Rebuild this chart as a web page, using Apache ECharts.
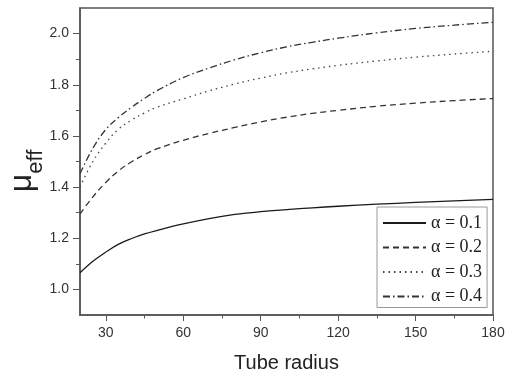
<!DOCTYPE html>
<html><head><meta charset="utf-8">
<script src="https://cdn.jsdelivr.net/npm/echarts@6/dist/echarts.min.js"></script>
<style>html,body{margin:0;padding:0;background:#fff}#c{width:506px;height:377px}</style>
</head><body><div id="c"></div><script>
const radius  = [20, 25, 30, 35, 40, 45, 50, 60, 70, 80, 90, 100, 110, 120, 135, 150, 165, 180];
const alpha01 = [1.065, 1.110, 1.146, 1.177, 1.199, 1.217, 1.231, 1.256, 1.277, 1.293, 1.304, 1.312, 1.319, 1.325, 1.333, 1.340, 1.346, 1.352];
const alpha02 = [1.295, 1.362, 1.418, 1.464, 1.499, 1.527, 1.550, 1.583, 1.610, 1.633, 1.655, 1.673, 1.688, 1.700, 1.716, 1.728, 1.738, 1.746];
const alpha03 = [1.400, 1.500, 1.572, 1.627, 1.662, 1.690, 1.713, 1.745, 1.776, 1.803, 1.826, 1.846, 1.862, 1.876, 1.893, 1.908, 1.920, 1.931];
const alpha04 = [1.452, 1.552, 1.625, 1.673, 1.712, 1.747, 1.778, 1.828, 1.865, 1.898, 1.925, 1.948, 1.966, 1.982, 2.003, 2.020, 2.033, 2.044];
const seriesNames = ['α = 0.1', 'α = 0.2', 'α = 0.3', 'α = 0.4'];
const xTicks = [30, 60, 90, 120, 150, 180];
const xMinor = [45, 75, 105, 135, 165];
const yTicks = [1.0, 1.2, 1.4, 1.6, 1.8, 2.0];
const yMinor = [1.1, 1.3, 1.5, 1.7, 1.9];

const pair = arr => radius.map((r, i) => [r, arr[i]]);
const axisCol = '#555';
const chart = echarts.init(document.getElementById('c'));
const dashes = ['solid', [6, 4], [1.5, 4], [7, 3, 1.5, 3]];
const cols = ['#1a1a1a', '#333', '#444', '#333'];
const data = [alpha01, alpha02, alpha03, alpha04];

chart.setOption({
  animation: false,
  backgroundColor: '#fff',
  grid: { left: 80, right: 13, top: 8, bottom: 62, outerBoundsMode: 'none', containLabel: false, show: true, borderColor: axisCol, borderWidth: 1.5, backgroundColor: 'transparent' },
  legend: {
    orient: 'vertical', left: 377, top: 207,
    itemWidth: 43, itemHeight: 14, itemGap: 6.5,
    padding: [7, 5, 2, 5],
    borderColor: '#999', borderWidth: 1, backgroundColor: '#fff',
    itemStyle: { opacity: 0 },
    textStyle: { fontFamily: 'Liberation Serif', fontSize: 18, color: '#222' },
    data: seriesNames
  },
  xAxis: [{
    type: 'value', min: 20, max: 180,
    name: 'Tube radius', nameLocation: 'middle', nameGap: 38, nameMoveOverlap: false,
    nameTextStyle: { fontFamily: 'Liberation Sans', fontSize: 20, color: '#222' },
    axisLine: { show: true, lineStyle: { color: axisCol, width: 1.5 } },
    axisTick: { show: true, length: 6, customValues: xTicks, lineStyle: { color: axisCol } },
    axisLabel: { customValues: xTicks, fontFamily: 'Liberation Sans', fontSize: 14, color: '#333', margin: 11 },
    splitLine: { show: false }
  }, {
    type: 'value', min: 20, max: 180, position: 'bottom',
    axisLine: { show: false },
    axisTick: { show: true, length: 3.5, customValues: xMinor, lineStyle: { color: axisCol } },
    axisLabel: { show: false, customValues: xMinor },
    splitLine: { show: false }
  }],
  yAxis: [{
    type: 'value', min: 0.9, max: 2.1,
    name: '{mu|μ}{sub|eff}', nameLocation: 'middle', nameGap: 33, nameRotate: 90, nameMoveOverlap: false,
    nameTextStyle: {
      color: '#222', fontFamily: 'Liberation Sans', padding: [0, 19, 0, 0],
      rich: {
        mu: { fontSize: 32, fontFamily: 'Liberation Sans', color: '#222', verticalAlign: 'middle' },
        sub: { fontSize: 22, fontFamily: 'Liberation Sans', color: '#222', verticalAlign: 'bottom', padding: [28, 0, 0, 0] }
      }
    },
    axisLine: { show: true, lineStyle: { color: axisCol, width: 1.5 } },
    axisTick: { show: true, length: 7, customValues: yTicks, lineStyle: { color: axisCol } },
    axisLabel: { customValues: yTicks, formatter: v => v.toFixed(1), fontFamily: 'Liberation Sans', fontSize: 14, color: '#333', margin: 11 },
    splitLine: { show: false }
  }, {
    type: 'value', min: 0.9, max: 2.1, position: 'left',
    axisLine: { show: false },
    axisTick: { show: true, length: 4, customValues: yMinor, lineStyle: { color: axisCol } },
    axisLabel: { show: false, customValues: yMinor },
    splitLine: { show: false }
  }],
  series: data.map((arr, i) => ({
    name: seriesNames[i], type: 'line', smooth: 0.4, showSymbol: false, symbol: 'none',
    xAxisIndex: 0, yAxisIndex: 0,
    data: pair(arr),
    lineStyle: { color: cols[i], width: 1.3, type: dashes[i] },
    itemStyle: { color: cols[i] }
  }))
});
</script></body></html>
